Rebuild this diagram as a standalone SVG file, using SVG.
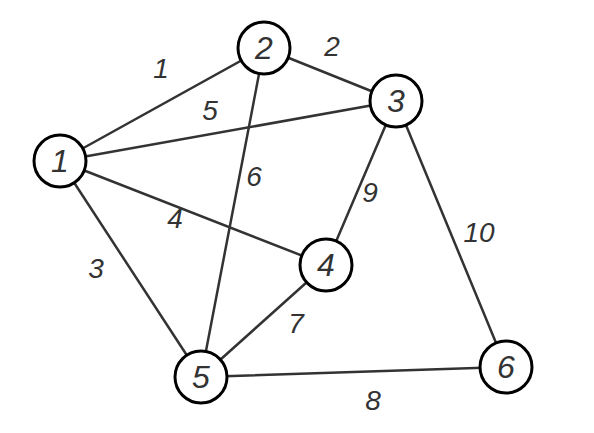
<svg xmlns="http://www.w3.org/2000/svg" width="594" height="433" viewBox="0 0 594 433">
<style>
.e{stroke:#333;stroke-width:2.5;fill:none;stroke-linecap:round}
.n circle{fill:#fff;stroke:#000;stroke-width:3}
.n text{font-family:"Liberation Sans",Arial,sans-serif;font-size:32px;fill:#333;text-anchor:middle;dominant-baseline:central;font-style:italic}
.l{font-family:"Liberation Sans",Arial,sans-serif;font-size:28px;fill:#333;text-anchor:middle;dominant-baseline:central;font-style:italic}
</style>
<rect width="594" height="433" fill="#fff"/>
<g id="connectors">
<line class="e" x1="60" y1="161" x2="264" y2="48"/>
<line class="e" x1="264" y1="48" x2="396" y2="101"/>
<line class="e" x1="60" y1="161" x2="396" y2="101"/>
<line class="e" x1="264" y1="48" x2="201" y2="377"/>
<line class="e" x1="60" y1="161" x2="326" y2="265"/>
<line class="e" x1="60" y1="161" x2="201" y2="377"/>
<line class="e" x1="396" y1="101" x2="326" y2="265"/>
<line class="e" x1="326" y1="265" x2="201" y2="377"/>
<line class="e" x1="201" y1="377" x2="506" y2="367"/>
<line class="e" x1="396" y1="101" x2="506" y2="367" stroke="#555" stroke-width="2"/>
<text class="l" x="161" y="68">1</text>
<text class="l" x="332" y="46">2</text>
<text class="l" x="210" y="110">5</text>
<text class="l" x="254" y="176">6</text>
<text class="l" x="175" y="218">4</text>
<text class="l" x="96" y="268">3</text>
<text class="l" x="370" y="192">9</text>
<text class="l" x="296" y="323">7</text>
<text class="l" x="373" y="400">8</text>
<text class="l" x="479" y="232">10</text>
</g>
<g id="node1" class="n"><circle cx="60" cy="161" r="26"/><text x="60" y="161">1</text></g>
<g id="node2" class="n"><circle cx="264" cy="48" r="26"/><text x="264" y="48">2</text></g>
<g id="node3" class="n"><circle cx="396" cy="101" r="26"/><text x="396" y="101">3</text></g>
<g id="node4" class="n"><circle cx="326" cy="265" r="26"/><text x="326" y="265">4</text></g>
<g id="node5" class="n"><circle cx="201" cy="377" r="26"/><text x="201" y="377">5</text></g>
<g id="node6" class="n"><circle cx="506" cy="367" r="26"/><text x="506" y="367">6</text></g>
</svg>
